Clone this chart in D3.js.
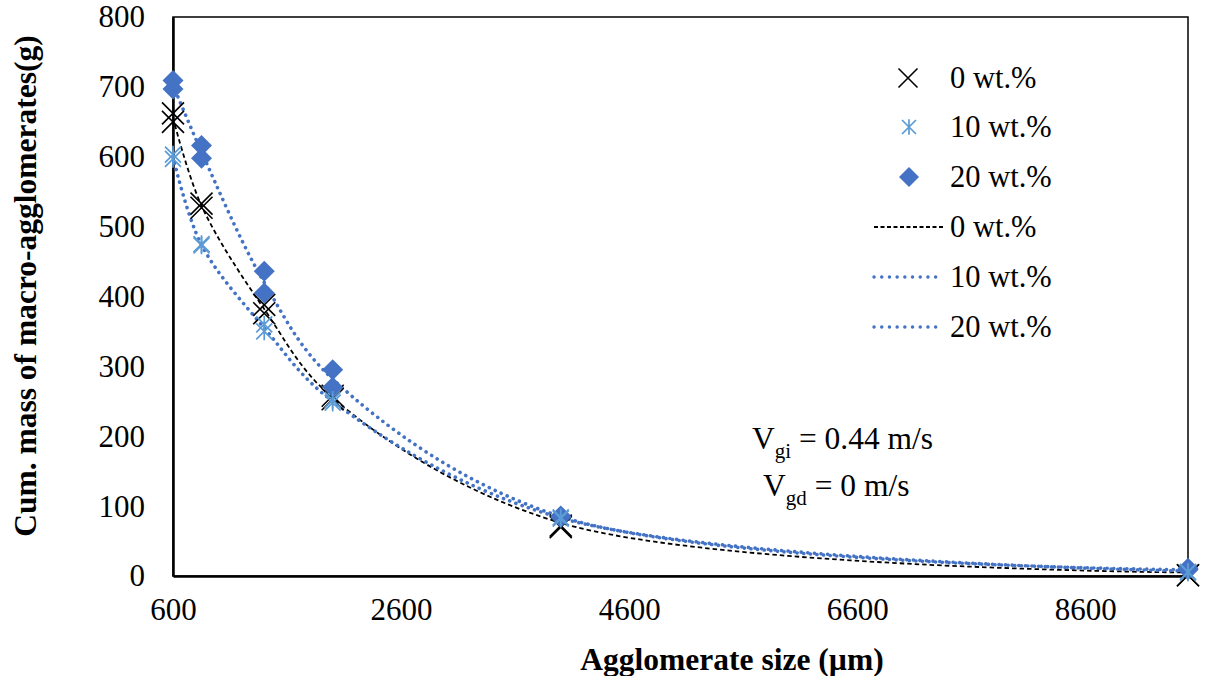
<!DOCTYPE html>
<html>
<head>
<meta charset="utf-8">
<script src="https://cdn.jsdelivr.net/npm/d3@7"></script>
<style>
  html, body { margin: 0; padding: 0; background: #fff; }
  svg { display: block; font-family: "Liberation Serif", "Times New Roman", serif; }
</style>
</head>
<body>
<svg id="chart" width="1206" height="676"></svg>
<script>
// ---- data ----
const sizes = [600, 850, 1400, 2000, 4000, 9500];
// measured points (two runs per condition)
const wt0RunA  = [662, 533, 388, 258, 70, 1];
const wt0RunB  = [650, 527, 376, 253, 72, 1];
const wt10RunA = [603, 475, 360, 252, 84, 6];
const wt10RunB = [597, 473, 350, 248, 82, 5];
const wt20RunA = [709, 616, 436, 295, 86, 11];
const wt20RunB = [697, 598, 405, 270, 84, 9];
// smoothed curves
const wt0Line  = [656, 530, 382, 255, 76, 5];
const wt10Line = [600, 474, 355, 250, 83, 7];
const wt20Line = [703, 607, 420, 282, 85, 9];

const xTicks = [600, 2600, 4600, 6600, 8600];
const yTicks = [0, 100, 200, 300, 400, 500, 600, 700, 800];
const legendLabels = ["0 wt.%", "10 wt.%", "20 wt.%", "0 wt.%", "10 wt.%", "20 wt.%"];
const xTitle = "Agglomerate size (µm)";
const yTitle = "Cum. mass of macro-agglomerates(g)";

// ---- layout ----
const svg = d3.select("#chart");
const L = 173, R = 1188, T = 17, B = 576;
const x = d3.scaleLinear().domain([600, 9500]).range([L, R]);
const y = d3.scaleLinear().domain([0, 800]).range([B, T]);

const BLUE = "#4472C4", LIGHT = "#5B9BD5";

// plot border
svg.append("rect").attr("x", L).attr("y", T).attr("width", R - L).attr("height", B - T)
  .attr("fill", "none").attr("stroke", "#000").attr("stroke-width", 1.5);

// axes (labels only)
const xAxis = d3.axisBottom(x).tickValues(xTicks).tickSize(0).tickPadding(22).tickFormat(d3.format("d"));
const gx = svg.append("g").attr("transform", `translate(0,${B})`).call(xAxis);
gx.select(".domain").attr("stroke", "#000").attr("stroke-width", 2.5);
gx.selectAll("text").attr("font-size", 31).attr("font-family", "Liberation Serif").attr("fill", "#000");

const yAxis = d3.axisLeft(y).tickValues(yTicks).tickSize(0).tickPadding(28).tickFormat(d3.format("d"));
const gy = svg.append("g").attr("transform", `translate(${L},0)`).call(yAxis);
gy.select(".domain").attr("stroke", "#000").attr("stroke-width", 2.5);
gy.selectAll("text").attr("font-size", 31).attr("font-family", "Liberation Serif").attr("fill", "#000");

// titles
svg.append("text").attr("x", 732).attr("y", 670).attr("text-anchor", "middle")
  .attr("font-size", 31.5).attr("font-weight", "bold").text(xTitle);
svg.append("text").attr("transform", `translate(36,286) rotate(-90)`).attr("text-anchor", "middle")
  .attr("font-size", 31.5).attr("font-weight", "bold").text(yTitle);

// lines
const lineGen = d3.line().x((d, i) => x(sizes[i])).y(d => y(d)).curve(d3.curveCatmullRom.alpha(0.5));
const lineStyles = [
  { data: wt0Line, color: "#000", width: 1.8, dash: "4.5 3", cap: "butt" },
  { data: wt10Line, color: BLUE, width: 3.6, dash: "0.1 6.5", cap: "round" },
  { data: wt20Line, color: BLUE, width: 3.6, dash: "0.1 6.5", cap: "round" }
];
lineStyles.forEach(s => {
  svg.append("path").datum(s.data).attr("d", lineGen).attr("fill", "none")
    .attr("stroke", s.color).attr("stroke-width", s.width)
    .attr("stroke-dasharray", s.dash).attr("stroke-linecap", s.cap);
});

// markers
function drawX(g, cx, cy, r) {
  g.append("path").attr("d", `M${cx - r},${cy - r}L${cx + r},${cy + r}M${cx - r},${cy + r}L${cx + r},${cy - r}`)
    .attr("stroke", "#000").attr("stroke-width", 1.6).attr("fill", "none");
}
function drawStar(g, cx, cy, r) {
  g.append("path").attr("d", `M${cx - r},${cy - r}L${cx + r},${cy + r}M${cx - r},${cy + r}L${cx + r},${cy - r}M${cx},${cy - r * 1.1}L${cx},${cy + r * 1.1}`)
    .attr("stroke", LIGHT).attr("stroke-width", 1.7).attr("fill", "none");
}
function drawDiamond(g, cx, cy, r) {
  g.append("path").attr("d", `M${cx},${cy - r}L${cx + r},${cy}L${cx},${cy + r}L${cx - r},${cy}Z`)
    .attr("fill", BLUE);
}
const mk = svg.append("g");
[wt0RunA, wt0RunB].forEach(arr => arr.forEach((v, i) => drawX(mk, x(sizes[i]), y(v), 11)));
[wt20RunA, wt20RunB].forEach(arr => arr.forEach((v, i) => drawDiamond(mk, x(sizes[i]), y(v), 10.5)));
[wt10RunA, wt10RunB].forEach(arr => arr.forEach((v, i) => drawStar(mk, x(sizes[i]), y(v), 8)));

// legend
const lg = svg.append("g");
const rowY = [78, 127, 177, 227, 277, 327];
drawX(lg, 908, rowY[0], 9.5);
drawStar(lg, 909, rowY[1], 7);
drawDiamond(lg, 909, rowY[2], 10);
[3, 4, 5].forEach((r, k) => {
  const s = lineStyles[k];
  lg.append("line").attr("x1", 874).attr("x2", 943).attr("y1", rowY[r]).attr("y2", rowY[r])
    .attr("stroke", s.color).attr("stroke-width", k === 0 ? 1.8 : 3.4)
    .attr("stroke-dasharray", k === 0 ? "4 2.5" : "0.1 7.6").attr("stroke-linecap", s.cap);
});
legendLabels.forEach((t, i) => {
  lg.append("text").attr("x", 950).attr("y", rowY[i] + 10).attr("font-size", 30.5).text(t);
});

// annotation
const a1 = svg.append("text").attr("x", 752).attr("y", 449).attr("font-size", 31.5);
a1.append("tspan").text("V");
a1.append("tspan").attr("font-size", 21).attr("dy", 9).text("gi");
a1.append("tspan").attr("dy", -9).text(" = 0.44 m/s");
const a2 = svg.append("text").attr("x", 763).attr("y", 496).attr("font-size", 31.5);
a2.append("tspan").text("V");
a2.append("tspan").attr("font-size", 21).attr("dy", 9).text("gd");
a2.append("tspan").attr("dy", -9).text(" = 0 m/s");
</script>
</body>
</html>
